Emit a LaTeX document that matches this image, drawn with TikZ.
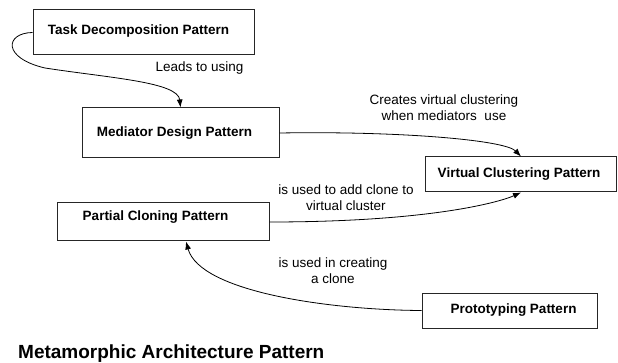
\documentclass[tikz,border=0pt]{standalone}
\usepackage{fontspec}
\setmainfont{Liberation Sans}
\usepackage{tikz}
\usetikzlibrary{arrows.meta}
\usetikzlibrary{positioning}
\tikzset{
    patbox/.style={
           rectangle,
           draw=black!85, line width=1pt,
           inner sep=0pt,
           font=\fontsize{13.5}{16}\selectfont\bfseries,
           },
    lbl/.style={
           align=center,
           inner sep=0pt,
           font=\fontsize{13.5}{16}\selectfont,
           },
    link/.style={
           -{Latex[length=8pt,width=6pt]}, line width=0.8pt, black,
           },
}

\begin{document}
\begin{tikzpicture}[x=1pt,y=-1pt]
\useasboundingbox (0,0) rectangle (618,363);
\node[patbox, minimum width=221pt, minimum height=45pt, text depth=6pt] (task) at (143.5,32.5) {\hspace*{-10pt}Task Decomposition Pattern};
\node[patbox, minimum width=197pt, minimum height=50pt] (mediator) at (180.5,133) {\hspace*{-12pt}Mediator Design Pattern};
\node[patbox, minimum width=191pt, minimum height=35pt, text depth=4pt] (virtual) at (521,174.5) {\hspace*{-4pt}Virtual Clustering Pattern};
\node[patbox, minimum width=212pt, minimum height=38pt, text depth=12pt] (partial) at (163,222) {\hspace*{-15pt}Partial Cloning Pattern};
\node[patbox, minimum width=175pt, minimum height=35pt, text depth=4pt] (proto) at (509.5,310.5) {\hspace*{8pt}Prototyping Pattern};
% labels
\node[lbl] (leads) at (199.5,68) {Leads to using};
\node[lbl] (creates) at (444,108) {Creates virtual clustering\\when mediators~ use};
\node[lbl] (addclone) at (346,197.5) {is used to add clone to\\virtual cluster};
\node[lbl] (creating) at (333,270.5) {is used in creating\\a clone};
\node[anchor=base west, inner sep=0pt, font=\fontsize{19}{22}\selectfont\bfseries] (title) at (18,358.5) {Metamorphic Architecture Pattern};
% connectors
\draw[link] (task.west) .. controls (5,33) and (2,58) .. (45,68) .. controls (110,78) and (178,82) .. (mediator.north);
\draw[link] (mediator.east) .. controls (400,131) and (505,140) .. (virtual.north);
\draw[link] (partial.east) .. controls (430,222) and (500,202) .. (virtual.south);
\draw[link] (proto.west) .. controls (330,310) and (200,292) .. ([xshift=23pt]partial.south);
\end{tikzpicture}
\end{document}
